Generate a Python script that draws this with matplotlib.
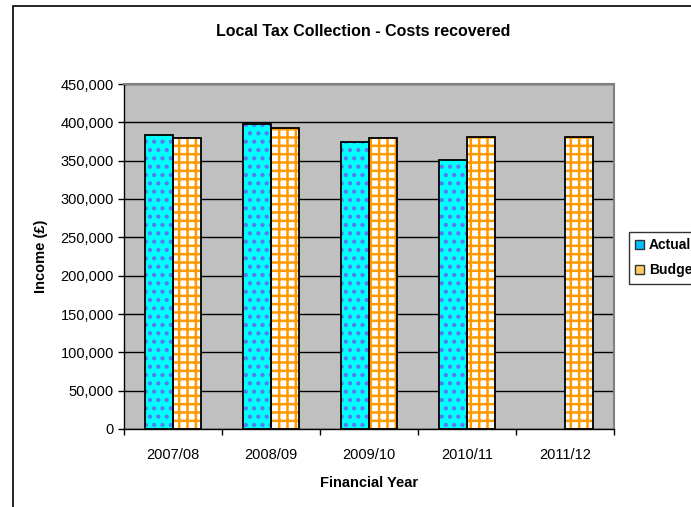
import matplotlib
matplotlib.use("Agg")
import matplotlib.pyplot as plt
from matplotlib.patches import Rectangle, Patch
import numpy as np

years = ["2007/08", "2008/09", "2009/10", "2010/11", "2011/12"]
actual = [383000, 398000, 374000, 351000, np.nan]
budget = [379000, 393000, 379000, 381000, 381000]
yticks = list(range(0, 450001, 50000))

plt.rcParams["font.family"] = ["Liberation Sans", "DejaVu Sans"]
plt.rcParams["hatch.linewidth"] = 1.8

W, H = 691, 507
fig = plt.figure(figsize=(W / 100, H / 100), dpi=100)
fig.patch.set_facecolor("white")

# outer chart frame (continues past the right and bottom edges)
fig.patches.append(Rectangle((12.5 / W, -0.1), 1.0, 1 - 6 / H + 0.1,
                             transform=fig.transFigure, fill=False,
                             edgecolor="black", linewidth=1.2))

ax = fig.add_axes([123.5 / W, 1 - 429 / H, (614 - 123.5) / W, (429 - 84) / H])
ax.set_facecolor("#C0C0C0")

x = np.arange(len(years))
bw = 0.2857

# pattern layers
ax.bar(x - bw / 2, actual, bw, color="#00FFFF", edgecolor="#5A78F0",
       hatch="..", linewidth=0, zorder=3)
ax.bar(x + bw / 2, budget, bw, color="white", edgecolor="#FF9900",
       hatch="++", linewidth=0, zorder=3)
# outlines
ax.bar(x - bw / 2, actual, bw, fill=False, edgecolor="black", linewidth=1.3, zorder=4)
ax.bar(x + bw / 2, budget, bw, fill=False, edgecolor="black", linewidth=1.3, zorder=4)

ax.set_xlim(-0.5, len(years) - 0.5)
ax.set_ylim(0, 450000)
ax.set_yticks(yticks)
ax.set_yticklabels([f"{v:,}" for v in yticks], fontsize=10.5)
ax.set_xticks(x)
ax.set_xticklabels(years, fontsize=10.5)
ax.set_xticks(np.arange(len(years) + 1) - 0.5, minor=True)
ax.tick_params(axis="x", which="major", length=0, pad=14)
ax.tick_params(axis="x", which="minor", length=4, width=1, color="black", direction="out")
ax.tick_params(axis="y", length=4, width=1, color="black", direction="out", pad=3)

ax.yaxis.grid(True, color="black", linewidth=1)
ax.set_axisbelow(True)

for side in ("top", "right"):
    ax.spines[side].set_color("#808080")
    ax.spines[side].set_linewidth(1.5)
for side in ("left", "bottom"):
    ax.spines[side].set_color("black")
    ax.spines[side].set_linewidth(1)

ax.set_ylabel("Income (£)", fontsize=10.5, fontweight="bold", labelpad=9)
ax.set_xlabel("Financial Year", fontsize=10.5, fontweight="bold", labelpad=10)

fig.text(363 / W, 1 - 31 / H, "Local Tax Collection - Costs recovered",
         ha="center", va="center", fontsize=11.5, fontweight="bold")

handles = [Patch(facecolor="#00BFFF", edgecolor="#333333", linewidth=1),
           Patch(facecolor="#FFCC66", edgecolor="#333333", linewidth=1)]
leg = fig.legend(handles, ["Actual", "Budget"], loc="upper left",
                 bbox_to_anchor=(629 / W, 1 - 232 / H), frameon=True,
                 fancybox=False, edgecolor="black",
                 prop={"weight": "bold", "size": 10}, handlelength=0.6,
                 handleheight=0.6, handletextpad=0.4, borderpad=0.45,
                 labelspacing=0.8, borderaxespad=0)
leg.get_frame().set_linewidth(1)

fig.savefig("out.png", dpi=100)
